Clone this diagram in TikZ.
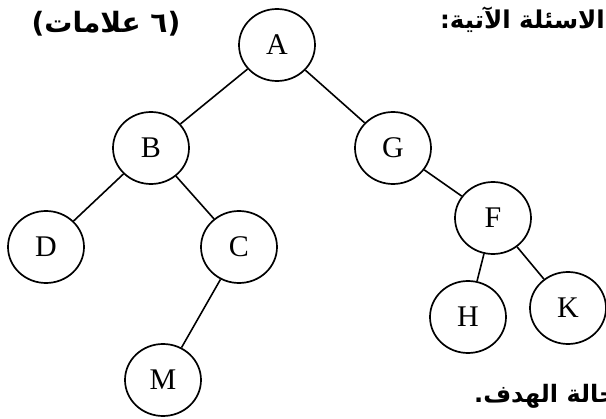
\documentclass[tikz,border=0pt]{standalone}
\usepackage{fontspec}
\setmainfont{Liberation Serif}
\newfontfamily\arabicfont[Script=Arabic]{DejaVu Sans}
\TeXXeTstate=1
\usetikzlibrary{shapes.geometric}
\begin{document}
\begin{tikzpicture}[x=1pt,y=-1pt,
  vtx/.style={draw, ellipse, line width=1.7pt, minimum width=76pt, minimum height=72pt, inner sep=0pt, font=\fontsize{30}{30}\selectfont},
  edge/.style={line width=1.6pt},
  ar/.style={inner sep=0pt}]
\useasboundingbox (0,0) rectangle (606,419);
\clip (0,0) rectangle (606,419);
\node[vtx] (A) at (277,45) {A};
\node[vtx] (B) at (151,148) {B};
\node[vtx] (G) at (393,148) {G};
\node[vtx] (D) at (46,247) {D};
\node[vtx] (C) at (239,247) {C};
\node[vtx] (F) at (493,218) {F};
\node[vtx] (H) at (468,317) {H};
\node[vtx] (K) at (568,308) {K};
\node[vtx] (M) at (163,380) {M};
\draw[edge] (A) -- (B);
\draw[edge] (A) -- (G);
\draw[edge] (B) -- (D);
\draw[edge] (B) -- (C);
\draw[edge] (C) -- (M);
\draw[edge] (G) -- (F);
\draw[edge] (F) -- (H);
\draw[edge] (F) -- (K);
\node[ar, font=\arabicfont\bfseries\fontsize{28}{28}\selectfont] (marks) at (106,24) {\beginR(٦ علامات)\endR};
\node[ar, anchor=east, font=\arabicfont\bfseries\fontsize{24.5}{24.5}\selectfont] (q) at (605,20) {\beginR الاسئلة الآتية:\endR};
\node[ar, anchor=west, font=\arabicfont\bfseries\fontsize{24}{24}\selectfont] (goal) at (474,396) {\beginR حالة الهدف.\endR};
\end{tikzpicture}
\end{document}
